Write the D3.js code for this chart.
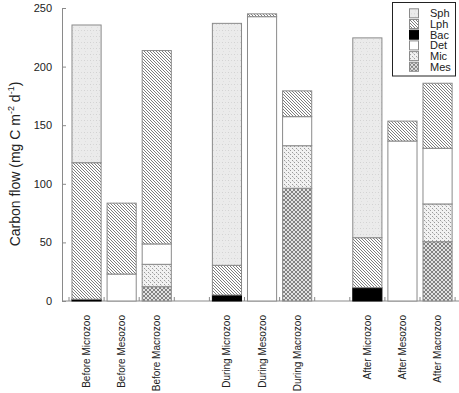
<!DOCTYPE html>
<html>
<head>
<meta charset="utf-8">
<script src="https://cdn.jsdelivr.net/npm/d3@7"></script>
<style>
  html, body { margin: 0; padding: 0; background: #fff; }
  svg { display: block; font-family: "Liberation Sans", Arial, sans-serif; }
</style>
</head>
<body>
<svg id="chart" width="459" height="393"></svg>
<script>
// ---- data ----
const phases = ["Before", "During", "After"];
const zoo = ["Microzoo", "Mesozoo", "Macrozoo"];
const categories = ["Before Microzoo", "Before Mesozoo", "Before Macrozoo",
                    "During Microzoo", "During Mesozoo", "During Macrozoo",
                    "After Microzoo", "After Mesozoo", "After Macrozoo"];
const seriesNames = ["Sph", "Lph", "Bac", "Det", "Mic", "Mes"];
const Sph = [117.5, 0, 0, 206.5, 0, 0, 170.5, 0, 0];
const Lph = [116.5, 60.5, 165, 25.3, 2.4, 22, 42.6, 17, 55.5];
const Bac = [1.5, 0, 0, 5.1, 0, 0, 11.4, 0, 0];
const Det = [0, 23, 17.4, 0, 242.6, 24.8, 0, 136.5, 47.5];
const Mic = [0, 0, 19.1, 0, 0, 36.3, 0, 0, 32.2];
const Mes = [0, 0, 12.2, 0, 0, 96.2, 0, 0, 50.6];
const yTicks = [0, 50, 100, 150, 200, 250];

const valuesBy = { Sph, Lph, Bac, Det, Mic, Mes };
const stackOrder = ["Mes", "Mic", "Det", "Bac", "Lph", "Sph"]; // bottom to top

const rows = categories.map((c, i) => {
  const r = { cat: c };
  seriesNames.forEach(s => r[s] = valuesBy[s][i]);
  return r;
});

// slot domain: each phase has 3 categories plus one gap slot
const slotKeys = [];
phases.forEach(p => { zoo.forEach(z => slotKeys.push(p + " " + z)); slotKeys.push(p + " gap"); });

const svg = d3.select("#chart");
const gray = "#8a8a8a";

// ---- patterns ----
const defs = svg.append("defs");
function pat(id, w, h, build) {
  const p = defs.append("pattern").attr("id", id).attr("patternUnits", "userSpaceOnUse")
    .attr("width", w).attr("height", h);
  build(p);
}
pat("pSph", 6, 6, p => {
  p.append("rect").attr("width", 6).attr("height", 6).attr("fill", "#ebebeb");
  p.append("rect").attr("x", 0).attr("y", 0).attr("width", 1).attr("height", 1).attr("fill", "#d2d2d2");
  p.append("rect").attr("x", 3).attr("y", 0).attr("width", 1).attr("height", 1).attr("fill", "#d8d8d8");
  p.append("rect").attr("x", 1).attr("y", 3).attr("width", 1).attr("height", 1).attr("fill", "#dedede");
});
pat("pLph", 3, 3, p => {
  p.append("rect").attr("width", 3).attr("height", 3).attr("fill", "#fff");
  p.append("path").attr("d", "M-1,-1 L4,4 M-1,2 L1,4 M2,-1 L4,1")
    .attr("stroke", "#6e6e6e").attr("stroke-width", 0.9);
});
pat("pMic", 4, 4, p => {
  p.append("rect").attr("width", 4).attr("height", 4).attr("fill", "#f2f2f2");
  p.append("rect").attr("x", 0).attr("y", 0).attr("width", 1).attr("height", 1).attr("fill", "#9a9a9a");
  p.append("rect").attr("x", 2).attr("y", 2).attr("width", 1).attr("height", 1).attr("fill", "#9a9a9a");
  p.append("rect").attr("x", 1).attr("y", 1).attr("width", 1).attr("height", 1).attr("fill", "#cfcfcf");
});
pat("pMes", 4, 4, p => {
  p.append("rect").attr("width", 4).attr("height", 4).attr("fill", "#e2e2e2");
  p.append("path").attr("d", "M-1,-1 L5,5 M-1,3 L1,5 M3,-1 L5,1 M5,-1 L-1,5 M1,-1 L-1,1 M5,3 L3,5")
    .attr("stroke", "#6a6a6a").attr("stroke-width", 0.8);
});
const fills = { Sph: "url(#pSph)", Lph: "url(#pLph)", Bac: "#000", Det: "#fff", Mic: "url(#pMic)", Mes: "url(#pMes)" };

// ---- scales ----
const x = d3.scaleBand().domain(slotKeys).range([69, 69 + 35.1 * slotKeys.length]).padding(0);
const barInset = x.bandwidth() * 0.085;
const barW = x.bandwidth() - 2 * barInset;
const y = d3.scaleLinear().domain([0, 250]).range([301, 8]);

// ---- axes ----
const yAxis = d3.axisLeft(y).tickValues(yTicks).tickSizeInner(-4).tickSizeOuter(0).tickPadding(10);
const gy = svg.append("g").attr("transform", "translate(62,0)").call(yAxis);
gy.select(".domain").attr("stroke", gray);
gy.selectAll(".tick line").attr("stroke", gray);
gy.selectAll(".tick text").attr("font-size", 11).attr("fill", "#222")
  .attr("font-family", "Liberation Sans, Arial, sans-serif");

// x axis baseline
svg.append("line").attr("x1", 62).attr("x2", 459).attr("y1", y(0)).attr("y2", y(0))
  .attr("stroke", gray).attr("stroke-width", 1);
// slot boundary ticks
svg.append("g").selectAll("line").data(slotKeys).join("line")
  .attr("x1", d => x(d)).attr("x2", d => x(d))
  .attr("y1", y(0)).attr("y2", y(0) - 4)
  .attr("stroke", gray);

// ---- bars ----
const stack = d3.stack().keys(stackOrder)(rows);
const gBars = svg.append("g");
stack.forEach(layer => {
  gBars.append("g").selectAll("rect")
    .data(layer.filter(d => d[1] - d[0] > 0))
    .join("rect")
    .attr("x", d => x(d.data.cat) + barInset)
    .attr("width", barW)
    .attr("y", d => y(d[1]))
    .attr("height", d => y(d[0]) - y(d[1]))
    .attr("fill", fills[layer.key])
    .attr("stroke", layer.key === "Bac" ? "#000" : gray)
    .attr("stroke-width", 1);
});

// ---- category labels ----
svg.append("g").selectAll("text").data(categories).join("text")
  .attr("transform", d => `translate(${x(d) + x.bandwidth() / 2 + 3.5},315) rotate(-90)`)
  .attr("text-anchor", "end")
  .attr("font-size", 10)
  .attr("fill", "#222")
  .text(d => d);

// ---- y axis title ----
const yt = svg.append("text")
  .attr("transform", "translate(20,164) rotate(-90)")
  .attr("text-anchor", "middle")
  .attr("font-size", 14)
  .attr("fill", "#222");
yt.append("tspan").text("Carbon flow (mg C m");
yt.append("tspan").attr("font-size", 9).attr("dy", -6).text("-2");
yt.append("tspan").attr("dy", 6).text(" d");
yt.append("tspan").attr("font-size", 9).attr("dy", -6).text("-1");
yt.append("tspan").attr("dy", 6).text(")");

// ---- legend ----
const lg = svg.append("g");
lg.append("rect").attr("x", 392.5).attr("y", 2.5).attr("width", 63).attr("height", 73.5)
  .attr("fill", "#fff").attr("stroke", "#222").attr("stroke-width", 1);
const li = lg.selectAll("g").data(seriesNames).join("g")
  .attr("transform", (d, i) => `translate(0,${13.3 + i * 10.7})`);
li.append("rect").attr("x", 409.5).attr("y", -4.5).attr("width", 9).attr("height", 9)
  .attr("fill", d => fills[d]).attr("stroke", d => d === "Bac" ? "#000" : gray);
li.append("text").attr("x", 430).attr("y", 4).attr("font-size", 11).attr("fill", "#222").text(d => d);
</script>
</body>
</html>
